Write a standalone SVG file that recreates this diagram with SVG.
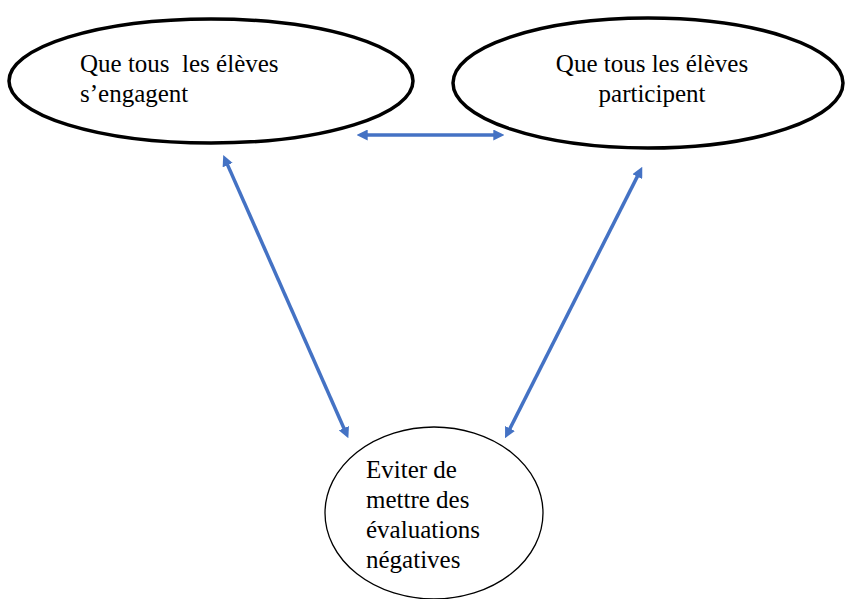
<svg xmlns="http://www.w3.org/2000/svg" width="845" height="599" viewBox="0 0 845 599">
<style>
.big{fill:#fff;stroke:#000;stroke-width:3.5}
.small{fill:#fff;stroke:#000;stroke-width:1.3}
.t{font-family:"Liberation Serif","Times New Roman",serif;font-size:25px;fill:#000}
.c{stroke:#4472C4;stroke-width:3.5;fill:none;marker-start:url(#ah);marker-end:url(#ah)}
</style>
<defs>
<marker id="ah" viewBox="0 0 10 10" refX="2" refY="5" markerWidth="11" markerHeight="11" markerUnits="userSpaceOnUse" orient="auto-start-reverse">
<path d="M0,0 L10,5 L0,10 z" fill="#4472C4"/>
</marker>
</defs>
<rect width="845" height="599" fill="#fff"/>
<g id="node-engagent">
<ellipse class="big" cx="211" cy="81" rx="202" ry="62"/>
<text class="t" x="80" y="71.5" xml:space="preserve">Que tous  les élèves</text>
<text class="t" x="80" y="101.5">s’engagent</text>
</g>
<g id="node-participent">
<ellipse class="big" cx="648" cy="83" rx="195" ry="65"/>
<text class="t" x="652" y="71.5" text-anchor="middle">Que tous les élèves</text>
<text class="t" x="652" y="101.5" text-anchor="middle">participent</text>
</g>
<g id="node-eviter">
<ellipse class="small" cx="434" cy="513" rx="109" ry="86"/>
<text class="t" x="366" y="477.5">Eviter de</text>
<text class="t" x="366" y="507.5">mettre des</text>
<text class="t" x="366" y="537.5">évaluations</text>
<text class="t" x="366" y="567.5">négatives</text>
</g>
<g id="connectors">
<line class="c" x1="365.5" y1="135" x2="495.5" y2="135"/>
<line class="c" x1="226.8" y1="163.1" x2="344.8" y2="430.2"/>
<line class="c" x1="638.3" y1="174.6" x2="509" y2="430.4"/>
</g>
</svg>
